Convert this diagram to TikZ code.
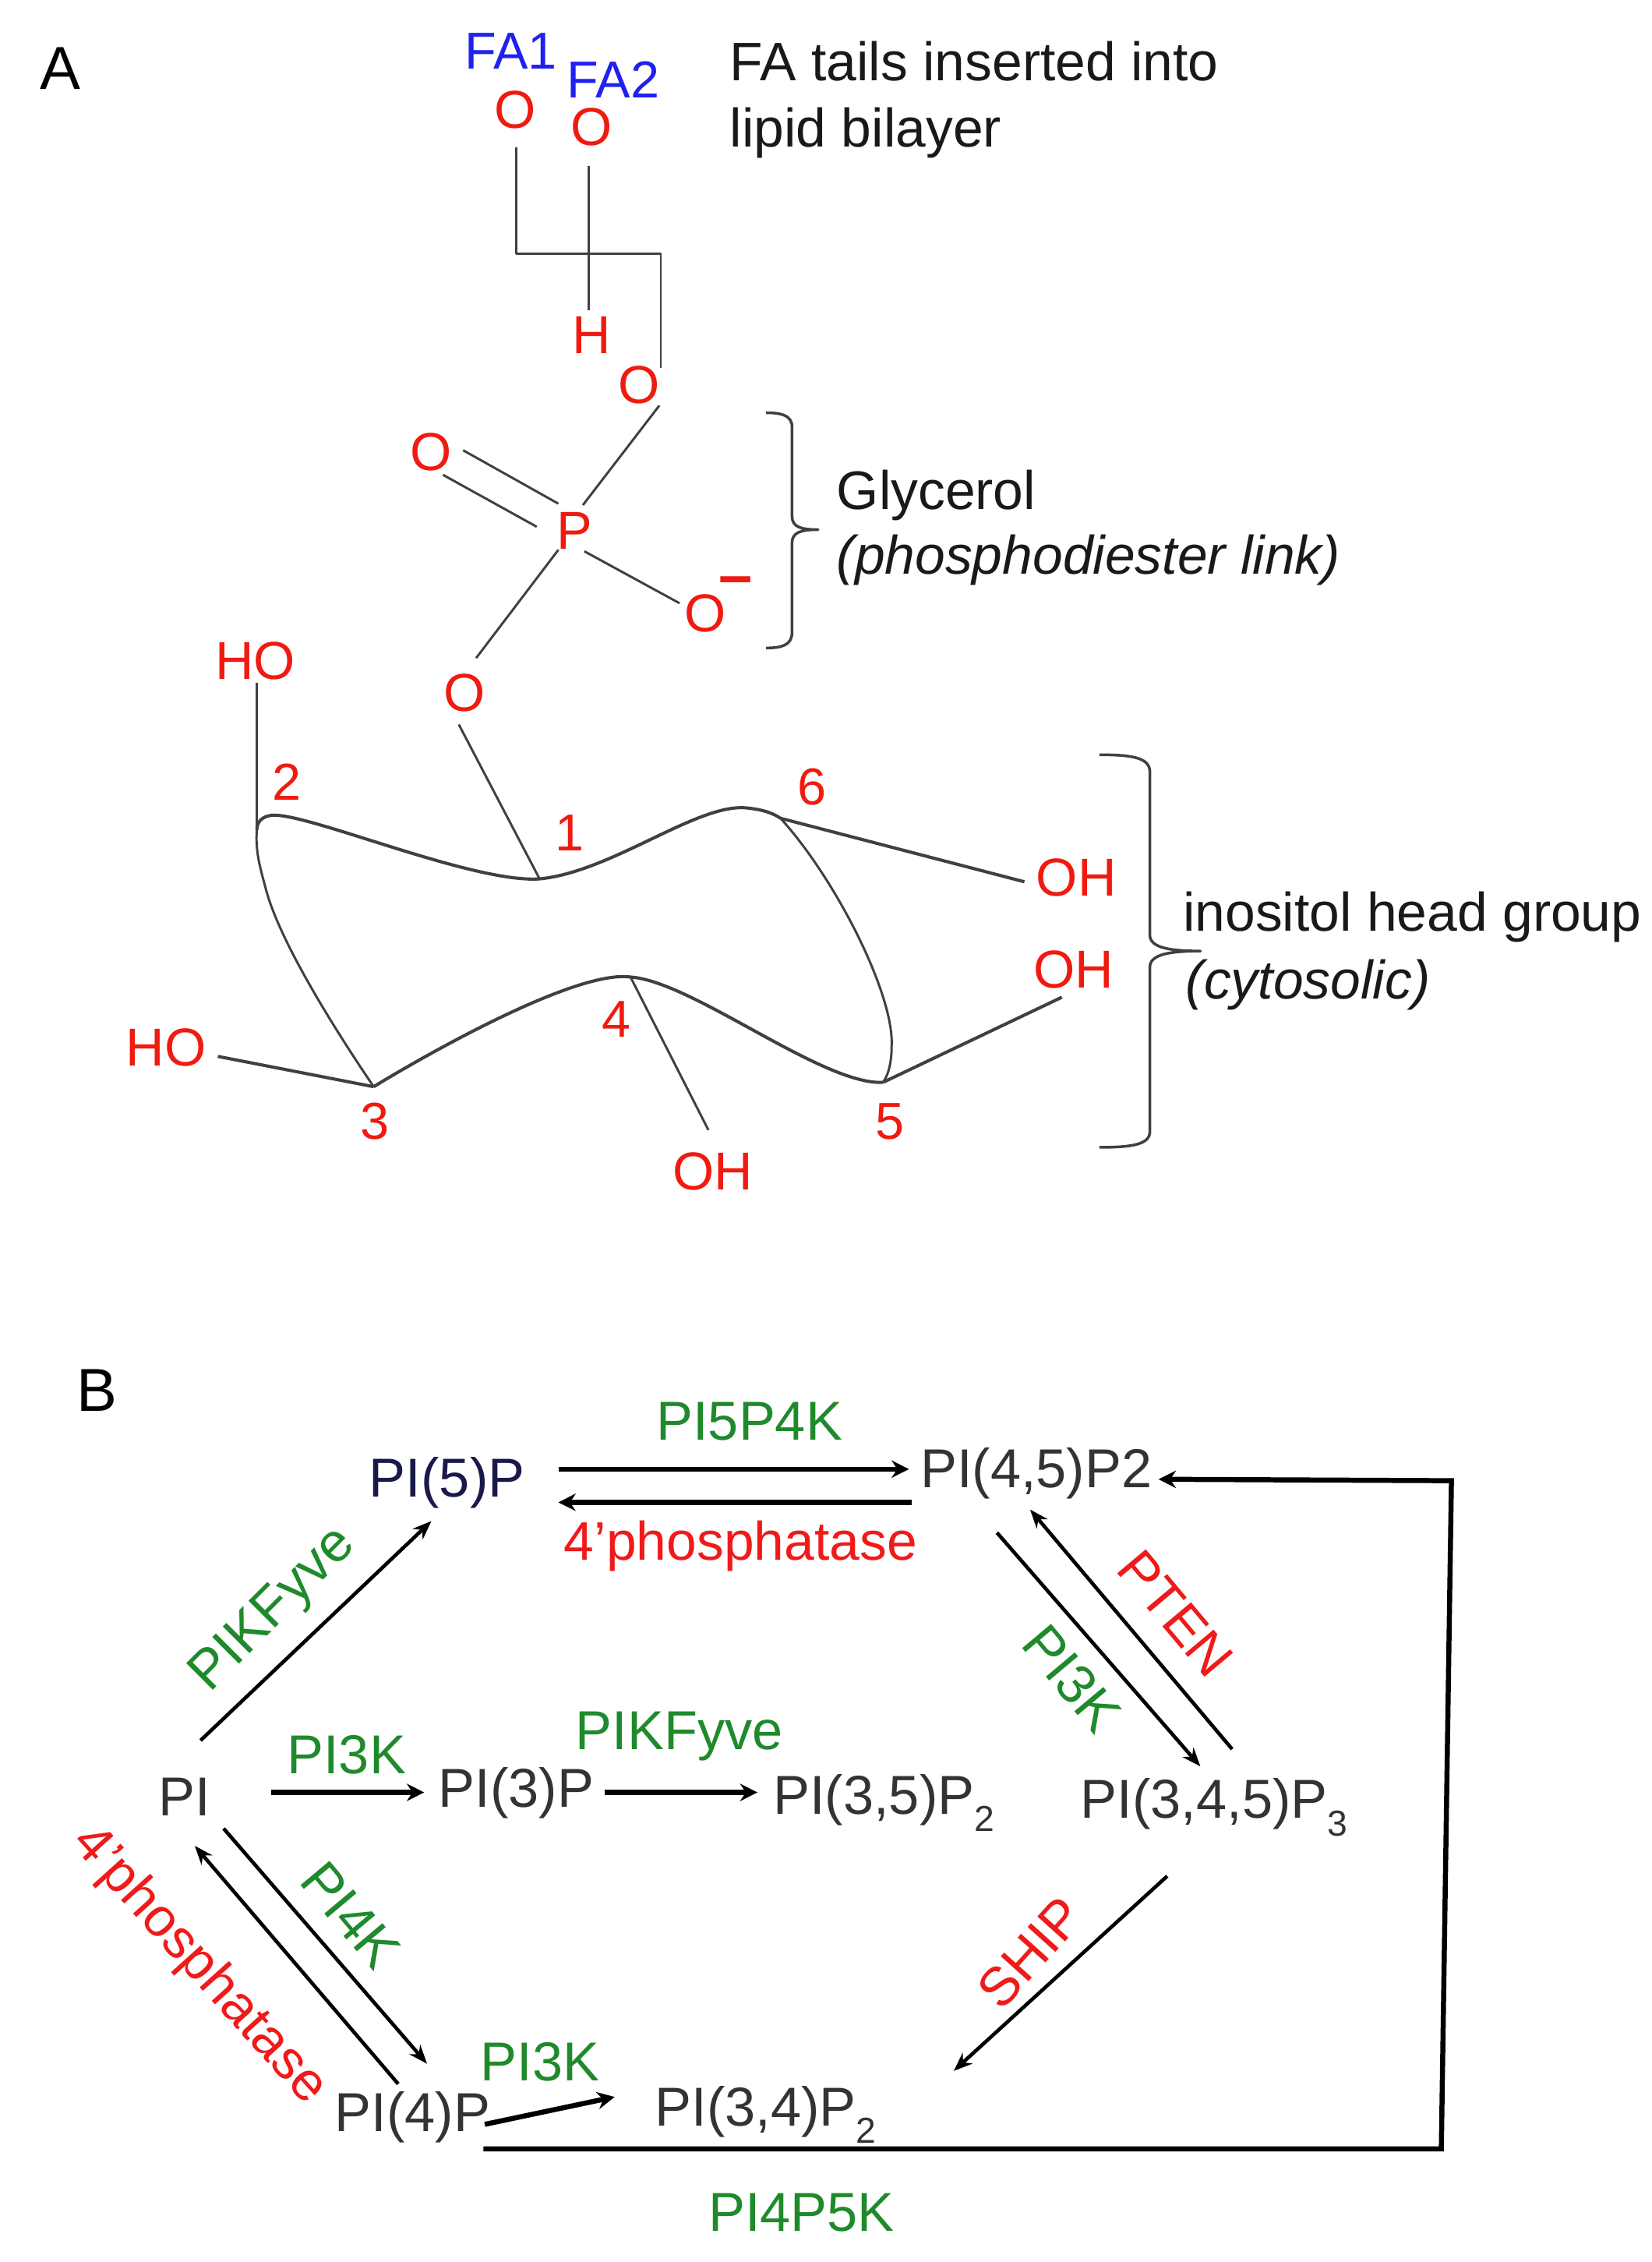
\documentclass[tikz,border=0pt]{standalone}
\usepackage{fontspec}
\setmainfont{Liberation Sans}
\usetikzlibrary{arrows.meta}
\definecolor{chemred}{HTML}{F01A10}
\definecolor{enzgreen}{HTML}{1F8A2B}
\definecolor{enzred}{HTML}{F01A1A}
\definecolor{fablue}{HTML}{2020F0}
\definecolor{lipid}{HTML}{333333}
\definecolor{bondgray}{HTML}{404040}
\definecolor{navy}{HTML}{1A1A4A}
\newcommand{\subsc}[1]{\raisebox{-12pt}{\fontsize{25}{25}\selectfont #1}}
\tikzset{
  x=1pt,y=-1pt,
  every node/.style={inner sep=0pt,outer sep=0pt},
  basetext/.style={anchor=base west,font=\fontsize{37.6}{37.6}\selectfont,text=black!90},
  paneltag/.style={anchor=base west,font=\fontsize{42}{42}\selectfont,text=black},
  atom/.style={font=\fontsize{37}{37}\selectfont,text=chemred},
  locant/.style={font=\fontsize{36}{36}\selectfont,text=chemred},
  falabel/.style={anchor=base west,font=\fontsize{36}{36}\selectfont,text=fablue},
  lipidnode/.style={anchor=base west,font=\fontsize{38}{38}\selectfont,text=lipid},
  enz/.style={font=\fontsize{38}{38}\selectfont,text=enzgreen},
  enzr/.style={font=\fontsize{37.6}{37.6}\selectfont,text=enzred},
  bond/.style={draw=bondgray,line width=1.6pt,line join=round},
  ringline/.style={draw=bondgray,line width=2.2pt,line join=round},
  bracket/.style={draw=bondgray,line width=1.9pt,line join=round},
  rxn/.style={draw=black,line width=2.5pt,-{Stealth[length=13pt,width=10pt]}},
  rxnthick/.style={draw=black,line width=3.5pt,-{Stealth[length=12pt,width=12pt]}}
}
\begin{document}
\begin{tikzpicture}
\useasboundingbox (0,0) rectangle (1145,1567.4);
% --- panel A text
\node[paneltag] (tagA) at (28,62) {A};
\node[falabel] (fa1) at (322,48) {FA1};
\node[falabel] (fa2) at (393,68) {FA2};
\node[basetext] (t1) at (506,56) {FA tails inserted into};
\node[basetext] (t2) at (506,102) {lipid bilayer};
\node[basetext] (t3) at (580,353) {Glycerol};
\node[basetext,font=\fontsize{37.6}{37.6}\selectfont\itshape] (t4) at (580,398) {(phosphodiester link)};
\node[basetext] (t5) at (820,645) {inositol head group};
\node[basetext,font=\fontsize{37.6}{37.6}\selectfont\itshape] (t6) at (822,692) {(cytosolic)};
% --- atoms
\node[atom] (ofa1) at (357,76) {O};
\node[atom] (ofa2) at (410,88) {O};
\node[atom] (hh) at (410,232) {H};
\node[atom] (o3) at (443,267) {O};
\node[atom] (oo) at (299,313) {O};
\node[atom] (pp) at (398,368) {P};
\node[atom] (om) at (489,425) {O};
\node[atom,font=\fontsize{42}{42}\selectfont\bfseries] (minus) at (510,406) {–};
\node[atom] (o1) at (322,480) {O};
\node[atom] (ho2) at (177,458) {HO};
\node[atom] (oh6) at (746,608) {OH};
\node[atom] (oh5) at (744,672) {OH};
\node[atom] (ho3) at (115,726) {HO};
\node[atom] (oh4) at (494,812) {OH};
\node[locant] (n2) at (199,542) {2};
\node[locant] (n1) at (395,577) {1};
\node[locant] (n6) at (563,545) {6};
\node[locant] (n4) at (427,706) {4};
\node[locant] (n3) at (260,777) {3};
\node[locant] (n5) at (617,777) {5};
% --- ring vertices
\coordinate (v1) at (374,609);
\coordinate (v2) at (178,575);
\coordinate (v3) at (259,753);
\coordinate (v4) at (437,677);
\coordinate (v5) at (612,750);
\coordinate (v6) at (541,567);
\coordinate (gl1) at (358,176);
\coordinate (gl2) at (458,176);
% --- bonds
\draw[bond] ([shift={(1,26)}]ofa1.center) -- (gl1) -- (gl2) -- ([shift={(15,-12)}]o3.center);
\draw[bond] ([shift={(-2,27)}]ofa2.center) -- ([shift={(-2,-17)}]hh.center);
\draw[bond] ([shift={(14,14)}]o3.center) -- ([shift={(6,-18)}]pp.center);
\draw[bond] ([shift={(22,-1)}]oo.center) -- ([shift={(-11,-19)}]pp.center);
\draw[bond] ([shift={(8,16)}]oo.center) -- ([shift={(-26,-3)}]pp.center);
\draw[bond] ([shift={(7,14)}]pp.center) -- ([shift={(-18,-7)}]om.center);
\draw[bond] ([shift={(-11,13)}]pp.center) -- ([shift={(8,-24)}]o1.center);
\draw[bond] ([shift={(-4,22)}]o1.center) -- (v1);
\draw[bond] ([shift={(1,15)}]ho2.center) -- (v2);
\draw[ringline] ([shift={(36,6)}]ho3.center) -- (v3);
\draw[ringline] (v6) -- ([shift={(-36,3)}]oh6.center);
\draw[ringline] (v5) -- ([shift={(-8,19)}]oh5.center);
\draw[bond] (v4) -- ([shift={(-3,-29)}]oh4.center);
% --- ring outline
\draw[ringline] (v2) .. controls (178,568) and (184,564) .. (193,565)
  .. controls (225,568) and (330,612) .. (374,609)
  .. controls (425,604) and (485,555) .. (519,560)
  .. controls (528,561) and (535,563) .. (v6);
\draw[bond] (v2) .. controls (177,590) and (180,600) .. (184,615) .. controls (194,655) and (240,725) .. (v3);
\draw[bond] (v6) .. controls (580,610) and (620,690) .. (618,725) .. controls (618,738) and (615,746) .. (v5);
\draw[ringline] (v3) .. controls (300,728) and (400,672) .. (v4) .. controls (480,680) and (570,752) .. (v5);
% --- brackets
\draw[bracket] (531,286) .. controls (542,286) and (549,288) .. (549,296) -- (549,358) .. controls (549,365) and (555,367) .. (567,367) .. controls (555,367) and (549,369) .. (549,376) -- (549,438) .. controls (549,447) and (542,449) .. (531,449);
\draw[bracket] (762,523) .. controls (785,523) and (797,525) .. (797,535) -- (797,648) .. controls (797,657) and (812,659) .. (832,659) .. controls (812,659) and (797,661) .. (797,670) -- (797,784) .. controls (797,793) and (785,795) .. (762,795);
% --- panel B
\node[paneltag] (tagB) at (53,978) {B};
\node[lipidnode,text=navy] (p5) at (256,1037) {PI(5)P};
\node[lipidnode] (p45) at (638,1031) {PI(4,5)P2};
\node[lipidnode] (pi) at (110,1258) {PI};
\node[lipidnode] (p3) at (304,1252) {PI(3)P};
\node[lipidnode] (p35) at (536,1257) {PI(3,5)P\subsc{2}};
\node[lipidnode] (p345) at (749,1260) {PI(3,4,5)P\subsc{3}};
\node[lipidnode] (p4) at (232,1477) {PI(4)P};
\node[lipidnode] (p34) at (454,1473) {PI(3,4)P\subsc{2}};
% --- enzymes
\node[enz,anchor=base west] (e1) at (455,998) {PI5P4K};
\node[enzr,anchor=base west] (e2) at (391,1081) {4’phosphatase};
\node[enz,rotate=45] (e3) at (190,1116) {PIKFyve};
\node[enz,rotate=-50] (e4) at (743,1163) {PI3K};
\node[enzr,rotate=-50] (e5) at (815,1118) {PTEN};
\node[enz,anchor=base west] (e6) at (199,1229) {PI3K};
\node[enz,anchor=base west] (e7) at (399,1212) {PIKFyve};
\node[enzr,rotate=-48] (e8) at (138,1362) {4’phosphatase};
\node[enz,rotate=-50] (e9) at (243,1327) {PI4K};
\node[enzr,rotate=48] (e10) at (714,1353) {SHIP};
\node[enz,anchor=base west] (e11) at (333,1442) {PI3K};
\node[enz,anchor=base west] (e12) at (491,1546) {PI4P5K};
% --- reactions
\draw[rxnthick] ([shift={(131,-19)}]p5.base west) -- ([shift={(-8,-13)}]p45.base west);
\draw[rxnthick] ([shift={(-6,10)}]p45.base west) -- ([shift={(131,4)}]p5.base west);
\draw[rxn] ([shift={(29,-52)}]pi.base west) -- ([shift={(43,17)}]p5.base west);
\draw[rxn] ([shift={(53,31)}]p45.base west) -- ([shift={(83,-36)}]p345.base west);
\draw[rxn] ([shift={(105,-48)}]p345.base west) -- ([shift={(76,15)}]p45.base west);
\draw[rxnthick] ([shift={(78,-16)}]pi.base west) -- ([shift={(-10,-10)}]p3.base west);
\draw[rxnthick] ([shift={(115,-10)}]p3.base west) -- ([shift={(-11,-15)}]p35.base west);
\draw[rxn] ([shift={(45,9)}]pi.base west) -- ([shift={(64,-47)}]p4.base west);
\draw[rxn] ([shift={(44,-33)}]p4.base west) -- ([shift={(25,21)}]pi.base west);
\draw[rxn] ([shift={(60,40)}]p345.base west) -- ([shift={(207,-38)}]p34.base west);
\draw[rxnthick] ([shift={(104,-5)}]p4.base west) -- ([shift={(-28,-20)}]p34.base west);
\coordinate (loopa) at (999,1489);
\coordinate (loopb) at (1006,1026);
\draw[rxnthick,line join=miter] ([shift={(103,12)}]p4.base west) -- (loopa) -- (loopb) -- ([shift={(165,-6)}]p45.base west);
\end{tikzpicture}
\end{document}
